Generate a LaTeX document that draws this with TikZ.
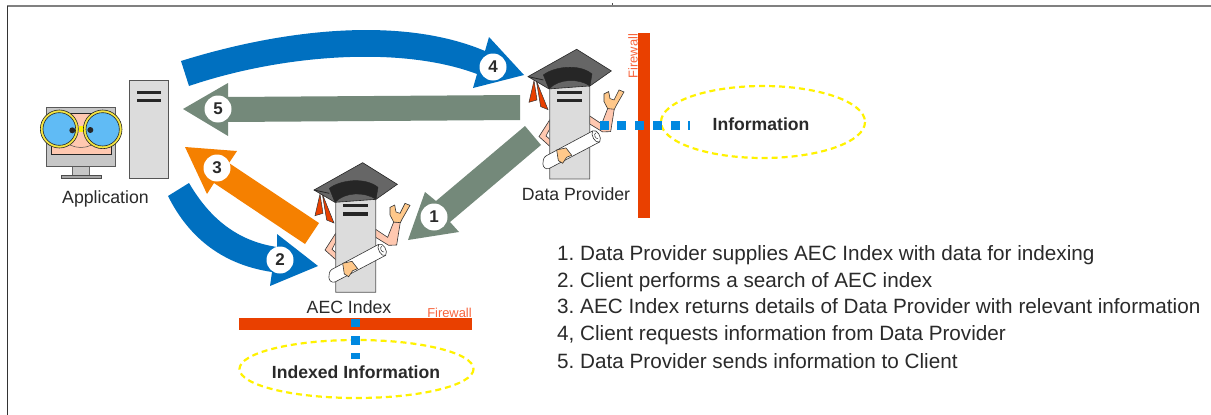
\documentclass[tikz,border=0pt]{standalone}
\usepackage{fontspec}
\setmainfont{Liberation Sans}
\frenchspacing
\definecolor{arrblue}{HTML}{0070C0}
\definecolor{arrgrey}{HTML}{74897A}
\definecolor{arrorange}{HTML}{F58000}
\definecolor{fw}{HTML}{E94000}
\definecolor{fwtext}{HTML}{F8643C}
\definecolor{dotblue}{HTML}{0088E0}
\definecolor{txt}{HTML}{2A2A2A}
\definecolor{bodyg}{HTML}{DCDCDC}
\definecolor{edge}{HTML}{555555}
\definecolor{skin}{HTML}{FFC8B0}
\definecolor{handc}{HTML}{FFC88A}
\definecolor{lens}{HTML}{60BBF5}
\definecolor{ringy}{HTML}{F5E642}
\newcommand{\fsz}[1]{\fontsize{#1}{#1}\selectfont}
\tikzset{
  badge/.style={circle,fill=white,minimum size=27,inner sep=0,font=\fsz{17}\bfseries,text=txt},
  lbl/.style={font=\fsz{17.7},text=txt,inner sep=0},
  listline/.style={font=\fsz{20.7}\frenchspacing,text=txt,inner sep=0,anchor=base west},
  fwlabel/.style={font=\fsz{12.9},text=fwtext,inner sep=0},
  cloud/.style={draw=yellow,line width=2.2,dash pattern=on 6 off 4,fill=none},
  infolabel/.style={font=\fsz{17.6}\bfseries,text=txt,inner sep=0},
  dot/.style={fill=dotblue,draw=none},
  wall/.style={fill=fw,draw=none},
  outl/.style={draw=black!80,line width=0.6},
  mortar/.pic={
    \begin{scope}[x=1/3*1pt,y=-1/3*1pt]
    % tassels
    \filldraw[fill=fw,draw=black!80,line width=0.5] (90,132)--(75,197)--(99,190)--cycle;
    \filldraw[fill=fw,draw=black!80,line width=0.5] (97,132)--(110,210)--(132,219)--cycle;
    % arms
    \filldraw[fill=skin,outl] (137,250)--(105,300)--(155,345)--(165,332)--(126,298)--(137,277)--cycle;
    \filldraw[fill=skin,outl] (257,238)--(293,262)--(311,216)--(331,216)--(320,285)--(296,286)--(257,262)--cycle;
    % body
    \filldraw[fill=bodyg,draw=edge,line width=0.8] (137,427)--(137,150) .. controls (165,125) and (225,125) .. (257,150)--(257,427)--cycle;
    \fill[black!85] (160,163) rectangle (234,172);
    \fill[black!85] (160,187) rectangle (234,197);
    % cap
    \filldraw[fill=black!60,draw=black!85,line width=0.6] (72,120)--(218,38)--(322,103)--(258,148)--(135,157)--cycle;
    \filldraw[fill=black!85,draw=black!85,line width=0.4] (118,115) .. controls (150,90) and (225,80) .. (264,112)--(258,148) .. controls (225,125) and (165,125) .. (135,157) -- cycle;
    \draw[black!85,line width=0.8] (72,120)--(118,130);
    % right hand
    \filldraw[fill=handc,outl] (300,172)--(314,165)--(318,186)--(330,190)--(345,160)--(360,166)--(336,208)--(331,218)--(311,216)--(300,195)--cycle;
    % scroll
    \filldraw[fill=white,draw=black!80,line width=0.6] (266,283)--(126,358) .. controls (112,366) and (112,402) .. (135,396)--(287,316);
    \filldraw[fill=white,draw=black!80,line width=0.6] (266,283) .. controls (278,275) and (296,304) .. (287,316) .. controls (274,323) and (258,293) .. (266,283) -- cycle;
    \draw[black!80,line width=0.5] (275,289) .. controls (268,292) and (274,308) .. (282,306);
    % left hand
    \filldraw[fill=handc,outl] (158,340)--(186,334)--(203,356)--(188,362)--(176,380)--(163,372)--cycle;
    \end{scope}
  }
}
\begin{document}
\begin{tikzpicture}[x=1pt,y=-1pt]
\useasboundingbox (0,0) rectangle (1211,415);
\fill[white] (0,0) rectangle (1211,415);
% frame
\draw[gray,line width=1.6] (7,6)--(1211,6);
\draw[black!80,line width=1.2] (7.5,6)--(7.5,415);
\draw[black!70,line width=0.6] (612,3)--(612,5);

% application
\begin{scope}[shift={(20,60)},x=1/3*1pt,y=-1/3*1pt]
  \filldraw[fill=black!22,draw=black!60,line width=0.8] (157,318) rectangle (209,346);
  \filldraw[fill=black!35,draw=black!70,line width=0.8] (124,346) rectangle (243,355);
  \filldraw[fill=black!22,draw=black!65,line width=0.8] (80,142) rectangle (287,318);
  \filldraw[fill=skin,draw=black!85,line width=0.7] (95,160) rectangle (275,283);
  \draw[black!70,line width=0.5] (150,255) .. controls (170,265) and (195,265) .. (215,255);
  \fill[yellow] (176,199) rectangle (193,216);
  \filldraw[fill=ringy,draw=black!85,line width=0.6] (118,207) circle[radius=57];
  \filldraw[fill=lens,draw=black!85,line width=0.6] (118,207) circle[radius=49];
  \filldraw[fill=ringy,draw=black!85,line width=0.6] (248,208) circle[radius=58];
  \filldraw[fill=lens,draw=black!85,line width=0.6] (248,208) circle[radius=50];
  \fill[black!85] (157,211) circle[radius=9];
  \fill[black!85] (211,210) circle[radius=9];
  \filldraw[fill=bodyg,draw=edge,line width=0.9] (327,61) rectangle (445,356);
  \fill[black!85] (350,92) rectangle (423,102);
  \fill[black!85] (350,116) rectangle (423,126);
\end{scope}
\node[lbl] (app) at (105.5,198.5) {Application};

% block arrows
\fill[arrblue] (181,61) .. controls (280,30) and (400,15) .. (485,51)--(489,37)--(524,75)--(473,88)--(477,74) .. controls (400,45) and (280,55) .. (189,86)--cycle;
\fill[arrgrey] (183,109)--(228,83)--(228,97)--(520,95)--(520,120)--(228,122)--(228,136)--cycle;
\fill[arrorange] (185,147)--(237,151)--(229,163)--(319,223)--(305,244)--(214,183)--(207,194)--cycle;
\fill[arrblue] (168,196)--(189,183) .. controls (205,210) and (230,240) .. (277,247)--(277,234)--(318,266)--(270,286)--(272,272) .. controls (225,265) and (190,240) .. (168,196)--cycle;
\fill[arrgrey] (525,126)--(541,145)--(450,222)--(459,232)--(408,240)--(425,192)--(436,201)--cycle;

\node[badge] (n1) at (434,217) {1};
\node[badge] (n2) at (280,260) {2};
\node[badge] (n3) at (217,168) {3};
\node[badge] (n4) at (493,67) {4};
\node[badge] (n5) at (218,109) {5};

% figures
\pic (aec) at (290,150) {mortar};
\pic (dp) at (504,36.6) {mortar};
\node[lbl] (aeclbl) at (349,307) {AEC Index};
\node[lbl] (dplbl) at (576,194) {Data Provider};

% firewalls
\fill[wall] (638,33) rectangle (649.5,218);
\fill[wall] (239,318) rectangle (472,330);
\node[fwlabel,rotate=90] (fw1) at (633,56) {Firewall};
\node[fwlabel] (fw2) at (449.5,313) {Firewall};

% clouds
\draw[cloud] (763,122) ellipse[x radius=102,y radius=36];
\draw[cloud] (356.5,369) ellipse[x radius=117,y radius=29];
\node[infolabel] (info) at (761,124) {Information};
\node[infolabel] (idx) at (356,372) {Indexed Information};

% dots
\fill[dot] (600,121) rectangle (609,130);
\fill[dot] (617.3,121) rectangle (626,130);
\fill[dot] (635,121) rectangle (644,130);
\fill[dot] (653.3,121) rectangle (662.3,130);
\fill[dot] (671,121) rectangle (680,130);
\fill[dot] (688,121) rectangle (690,130);
\fill[dot] (351,319) rectangle (360,327);
\fill[dot] (351,336) rectangle (360,345);
\fill[dot] (351,353) rectangle (360,359);

% list
\node[listline] (l1) at (557,260) {1. Data Provider supplies AEC Index with data for indexing};
\node[listline] (l2) at (557,287) {2. Client performs a search of AEC index};
\node[listline] (l3) at (557,313) {3. AEC Index returns details of Data Provider with relevant information};
\node[listline] (l4) at (557,340) {4, Client requests information from Data Provider};
\node[listline] (l5) at (557,368) {5. Data Provider sends information to Client};
\end{tikzpicture}
\end{document}
